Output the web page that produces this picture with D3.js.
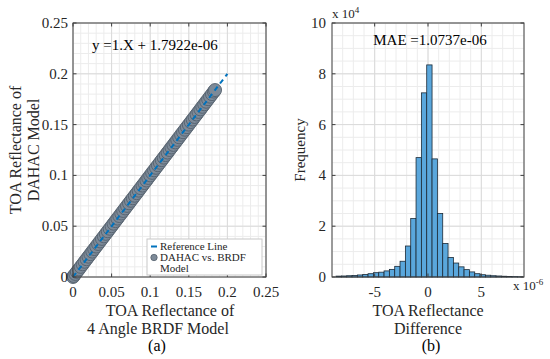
<!DOCTYPE html>
<html>
<head>
<meta charset="utf-8">
<script src="https://cdn.jsdelivr.net/npm/d3@7"></script>
<style>
  body { margin: 0; background: #fff; }
  svg { display: block; font-family: "Liberation Serif", "Times New Roman", serif; }
</style>
</head>
<body>
<div id="plot"></div>
<script>
// panel (a): scatter of DAHAC vs BRDF model along the 1:1 line
let scatterX = [0, 0.001, 0.003, 0.005, 0.0075, 0.010, 0.0125, 0.015, 0.0175, 0.020, 0.0225, 0.025,
  0.0275, 0.030, 0.0325, 0.035, 0.0375, 0.040, 0.0425, 0.045, 0.0475, 0.050, 0.0525, 0.055,
  0.0575, 0.060, 0.0625, 0.065, 0.0675, 0.070, 0.0725, 0.075, 0.0775, 0.080, 0.0825, 0.085,
  0.0875, 0.090, 0.0925, 0.095, 0.0975, 0.100, 0.1025, 0.105, 0.1075, 0.110, 0.1125, 0.115,
  0.1175, 0.120, 0.1225, 0.125, 0.1275, 0.130, 0.1325, 0.135, 0.1375, 0.140, 0.1425, 0.145,
  0.1475, 0.150, 0.1525, 0.155, 0.1575, 0.160, 0.1625, 0.165, 0.1675, 0.170, 0.1725, 0.175,
  0.1775, 0.180, 0.1825, 0.184]
let scatterY = [0, 0.001, 0.003, 0.005, 0.0075, 0.010, 0.0125, 0.015, 0.0175, 0.020, 0.0225, 0.025,
  0.0275, 0.030, 0.0325, 0.035, 0.0375, 0.040, 0.0425, 0.045, 0.0475, 0.050, 0.0525, 0.055,
  0.0575, 0.060, 0.0625, 0.065, 0.0675, 0.070, 0.0725, 0.075, 0.0775, 0.080, 0.0825, 0.085,
  0.0875, 0.090, 0.0925, 0.095, 0.0975, 0.100, 0.1025, 0.105, 0.1075, 0.110, 0.1125, 0.115,
  0.1175, 0.120, 0.1225, 0.125, 0.1275, 0.130, 0.1325, 0.135, 0.1375, 0.140, 0.1425, 0.145,
  0.1475, 0.150, 0.1525, 0.155, 0.1575, 0.160, 0.1625, 0.165, 0.1675, 0.170, 0.1725, 0.175,
  0.1775, 0.180, 0.1825, 0.184]
let refLine = [[0, 0], [0.2, 0.2]]
let aTicks = [0, 0.05, 0.1, 0.15, 0.2, 0.25]
let aTickLabels = ['0', '0.05', '0.1', '0.15', '0.2', '0.25']

// panel (b): histogram of differences (x in 1e-6, counts in 1e4)
let binLeft = [-8.62, -8.12, -7.62, -7.12, -6.62, -6.12, -5.62, -5.12, -4.62, -4.12, -3.62, -3.12,
  -2.62, -2.12, -1.62, -1.12, -0.62, -0.12, 0.38, 0.88, 1.38, 1.88, 2.38, 2.88, 3.38, 3.88,
  4.38, 4.88, 5.38, 5.88, 6.38, 6.88, 7.38, 7.88, 8.38]
let binCounts = [0.035, 0.04, 0.05, 0.06, 0.08, 0.10, 0.13, 0.17, 0.19, 0.24, 0.30, 0.42,
  0.62, 1.22, 2.30, 4.70, 7.25, 8.35, 4.65, 2.50, 1.32, 0.77, 0.55, 0.40, 0.29, 0.20,
  0.13, 0.09, 0.07, 0.05, 0.04, 0.03, 0.02, 0.015, 0.01]
let binWidth = 0.5
let bxTicks = [-5, 0, 5]
let byTicks = [0, 2, 4, 6, 8, 10]

let svg = d3.select('#plot').append('svg')
  .attr('width', 550)
  .attr('height', 359)

let axisColor = '#404040'
let textColor = '#262626'

function drawFrame(g, x, y, xMajor, yMajor, xMinor, yMinor) {
  let [x0, x1] = x.range()
  let [y0, y1] = y.range()
  // minor grid
  g.append('g').selectAll('line').data(xMinor).enter().append('line')
    .attr('x1', d => x(d)).attr('x2', d => x(d)).attr('y1', y0).attr('y2', y1)
    .attr('stroke', '#ececec').attr('stroke-width', 1)
  g.append('g').selectAll('line').data(yMinor).enter().append('line')
    .attr('x1', x0).attr('x2', x1).attr('y1', d => y(d)).attr('y2', d => y(d))
    .attr('stroke', '#ececec').attr('stroke-width', 1)
  // major grid
  g.append('g').selectAll('line').data(xMajor).enter().append('line')
    .attr('x1', d => x(d)).attr('x2', d => x(d)).attr('y1', y0).attr('y2', y1)
    .attr('stroke', '#dadada').attr('stroke-width', 1)
  g.append('g').selectAll('line').data(yMajor).enter().append('line')
    .attr('x1', x0).attr('x2', x1).attr('y1', d => y(d)).attr('y2', d => y(d))
    .attr('stroke', '#dadada').attr('stroke-width', 1)
}

function drawBox(g, x, y, xMajor, yMajor) {
  let [x0, x1] = x.range()
  let [y0, y1] = y.range()
  let t = 3.5
  g.append('rect')
    .attr('x', x0).attr('y', y1).attr('width', x1 - x0).attr('height', y0 - y1)
    .attr('fill', 'none').attr('stroke', axisColor).attr('stroke-width', 1)
  // ticks inside, all four sides
  xMajor.forEach(function(d) {
    g.append('line').attr('x1', x(d)).attr('x2', x(d)).attr('y1', y0).attr('y2', y0 - t).attr('stroke', axisColor)
    g.append('line').attr('x1', x(d)).attr('x2', x(d)).attr('y1', y1).attr('y2', y1 + t).attr('stroke', axisColor)
  })
  yMajor.forEach(function(d) {
    g.append('line').attr('x1', x0).attr('x2', x0 + t).attr('y1', y(d)).attr('y2', y(d)).attr('stroke', axisColor)
    g.append('line').attr('x1', x1).attr('x2', x1 - t).attr('y1', y(d)).attr('y2', y(d)).attr('stroke', axisColor)
  })
}

// ---------- panel (a)
let xa = d3.scaleLinear().domain([0, 0.25]).range([73, 266])
let ya = d3.scaleLinear().domain([0, 0.25]).range([277, 23])
let ga = svg.append('g')

drawFrame(ga, xa, ya, aTicks, aTicks, xa.ticks(25), ya.ticks(25))

let pts = scatterX.map((d, i) => [d, scatterY[i]])
ga.append('g').selectAll('circle').data(pts).enter().append('circle')
  .attr('cx', d => xa(d[0]))
  .attr('cy', d => ya(d[1]))
  .attr('r', 6.5)
  .attr('fill', '#7d8a98')
  .attr('stroke', '#55616d')
  .attr('stroke-width', 0.9)

ga.append('path')
  .datum(refLine)
  .attr('d', d3.line().x(d => xa(d[0])).y(d => ya(d[1])))
  .attr('fill', 'none')
  .attr('stroke', '#0072bd')
  .attr('stroke-width', 2)
  .attr('stroke-dasharray', '5,4')

drawBox(ga, xa, ya, aTicks, aTicks)

ga.append('g').selectAll('text').data(aTicks).enter().append('text')
  .attr('x', 68).attr('y', d => ya(d) + 5)
  .attr('text-anchor', 'end')
  .style('font-size', '15px').attr('fill', textColor)
  .text((d, i) => aTickLabels[i])
ga.append('g').selectAll('text').data(aTicks).enter().append('text')
  .attr('x', d => xa(d)).attr('y', 297)
  .attr('text-anchor', 'middle')
  .style('font-size', '15px').attr('fill', textColor)
  .text((d, i) => aTickLabels[i])

ga.append('text')
  .attr('x', 92).attr('y', 50)
  .style('font-size', '15px').attr('fill', '#000')
  .text('y =1.X + 1.7922e-06')

// legend
let leg = ga.append('g')
leg.append('rect')
  .attr('x', 147).attr('y', 239).attr('width', 115).attr('height', 36)
  .attr('fill', '#fff').attr('stroke', '#c8c8c8').attr('stroke-width', 1)
leg.append('line')
  .attr('x1', 151).attr('x2', 157).attr('y1', 246.5).attr('y2', 246.5)
  .attr('stroke', '#0072bd').attr('stroke-width', 2)
leg.append('circle')
  .attr('cx', 154).attr('cy', 257.5).attr('r', 3.2)
  .attr('fill', '#7d8a98').attr('stroke', '#55616d').attr('stroke-width', 0.8)
leg.append('text').attr('x', 160).attr('y', 250).style('font-size', '11px').attr('fill', textColor).text('Reference Line')
leg.append('text').attr('x', 160).attr('y', 261).style('font-size', '11px').attr('fill', textColor).text('DAHAC vs. BRDF')
leg.append('text').attr('x', 160).attr('y', 272).style('font-size', '11px').attr('fill', textColor).text('Model')

ga.append('text')
  .attr('transform', 'translate(21,150) rotate(-90)')
  .attr('text-anchor', 'middle')
  .style('font-size', '16px').attr('fill', textColor)
  .text('TOA Reflectance of')
ga.append('text')
  .attr('transform', 'translate(39,150) rotate(-90)')
  .attr('text-anchor', 'middle')
  .style('font-size', '16px').attr('fill', textColor)
  .text('DAHAC Model')

ga.append('text')
  .attr('x', 170).attr('y', 316)
  .attr('text-anchor', 'middle')
  .style('font-size', '16px').attr('fill', textColor)
  .text('TOA Reflectance of')
ga.append('text')
  .attr('x', 158).attr('y', 334)
  .attr('text-anchor', 'middle')
  .style('font-size', '16px').attr('fill', textColor)
  .text('4 Angle BRDF Model')
ga.append('text')
  .attr('x', 157).attr('y', 351)
  .attr('text-anchor', 'middle')
  .style('font-size', '16px').attr('fill', '#000')
  .text('(a)')

// ---------- panel (b)
let xb = d3.scaleLinear().domain([-9, 9]).range([332, 524])
let yb = d3.scaleLinear().domain([0, 10]).range([277, 23])
let gb = svg.append('g')

drawFrame(gb, xb, yb, bxTicks, byTicks, xb.ticks(18), yb.ticks(20))

let bins = binLeft.map((d, i) => ({x0: d, x1: d + binWidth, n: binCounts[i]}))
gb.append('g').selectAll('rect').data(bins).enter().append('rect')
  .attr('x', d => xb(d.x0))
  .attr('y', d => yb(d.n))
  .attr('width', d => xb(d.x1) - xb(d.x0))
  .attr('height', d => yb(0) - yb(d.n))
  .attr('fill', '#5aa7dc')
  .attr('stroke', '#1c2a36')
  .attr('stroke-width', 0.8)

drawBox(gb, xb, yb, bxTicks, byTicks)

gb.append('g').selectAll('text').data(byTicks).enter().append('text')
  .attr('x', 326).attr('y', d => yb(d) + 5)
  .attr('text-anchor', 'end')
  .style('font-size', '15px').attr('fill', textColor)
  .text(d => d)
gb.append('g').selectAll('text').data(bxTicks).enter().append('text')
  .attr('x', d => xb(d)).attr('y', 297)
  .attr('text-anchor', 'middle')
  .style('font-size', '15px').attr('fill', textColor)
  .text(d => d === 0 ? '0' : (d < 0 ? '-' + Math.abs(d) : d))

let e4 = gb.append('text')
  .attr('x', 332).attr('y', 18)
  .style('font-size', '13px').attr('fill', textColor)
e4.append('tspan').text('x 10')
e4.append('tspan').attr('dy', -5).style('font-size', '9px').text('4')

let e6 = gb.append('text')
  .attr('x', 513).attr('y', 290)
  .style('font-size', '13px').attr('fill', textColor)
e6.append('tspan').text('x 10')
e6.append('tspan').attr('dy', -5).style('font-size', '9px').text('-6')

gb.append('text')
  .attr('x', 430).attr('y', 45)
  .attr('text-anchor', 'middle')
  .style('font-size', '15px').attr('fill', '#000')
  .text('MAE =1.0737e-06')

gb.append('text')
  .attr('transform', 'translate(305,150) rotate(-90)')
  .attr('text-anchor', 'middle')
  .style('font-size', '15px').attr('fill', textColor)
  .text('Frequency')

gb.append('text')
  .attr('x', 428).attr('y', 316)
  .attr('text-anchor', 'middle')
  .style('font-size', '16px').attr('fill', textColor)
  .text('TOA Reflectance')
gb.append('text')
  .attr('x', 428).attr('y', 334)
  .attr('text-anchor', 'middle')
  .style('font-size', '16px').attr('fill', textColor)
  .text('Difference')
gb.append('text')
  .attr('x', 431).attr('y', 351)
  .attr('text-anchor', 'middle')
  .style('font-size', '16px').attr('fill', '#000')
  .text('(b)')
</script>
</body>
</html>
